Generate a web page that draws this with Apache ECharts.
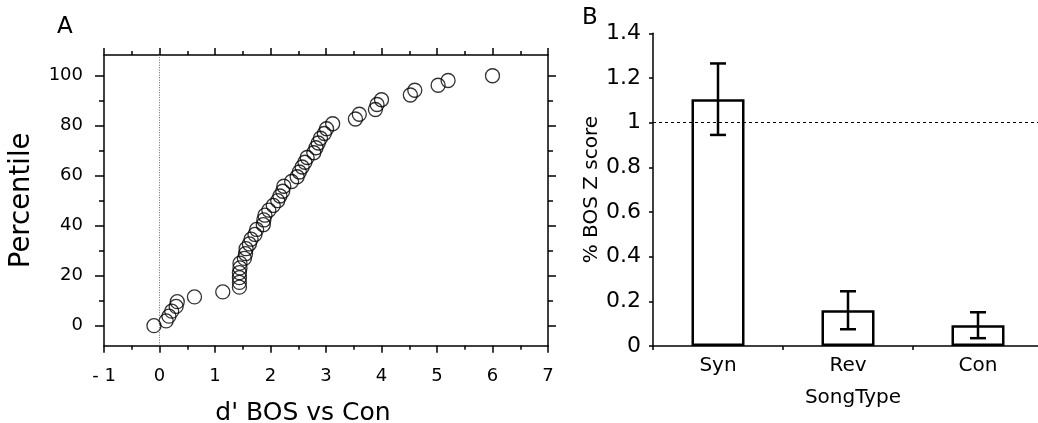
<!DOCTYPE html>
<html>
<head>
<meta charset="utf-8">
<script src="https://cdn.jsdelivr.net/npm/echarts@6/dist/echarts.min.js"></script>
<style>
  html, body { margin: 0; padding: 0; background: #fff; }
  #chart { width: 1038px; height: 423px; }
</style>
</head>
<body>
<div id="chart"></div>
<script>
// Panel A: cumulative distribution of d' (BOS vs Con) across sites
const dPrime = [
  -0.10, 0.12, 0.17, 0.22, 0.30, 0.32, 0.63, 1.14,
  1.44, 1.44, 1.44, 1.44, 1.45, 1.45, 1.53, 1.55, 1.56, 1.62, 1.65, 1.72, 1.75,
  1.87, 1.88, 1.90, 1.97, 2.05, 2.13, 2.17, 2.22, 2.24, 2.38, 2.48, 2.52, 2.57,
  2.62, 2.66, 2.78, 2.82, 2.86, 2.90, 2.97, 3.01, 3.12, 3.53, 3.60, 3.89, 3.92,
  4.00, 4.52, 4.60, 5.02, 5.20, 6.00
];
const percentile = [
  0, 1.9, 3.8, 5.8, 7.7, 9.6, 11.5, 13.5,
  15.4, 17.3, 19.2, 21.2, 23.1, 25.0, 26.9, 28.8, 30.8, 32.7, 34.6, 36.5, 38.5,
  40.4, 42.3, 44.2, 46.2, 48.1, 50.0, 51.9, 53.8, 55.8, 57.7, 59.6, 61.5, 63.5,
  65.4, 67.3, 69.2, 71.2, 73.1, 75.0, 76.9, 78.8, 80.8, 82.7, 84.6, 86.5, 88.5,
  90.4, 92.3, 94.2, 96.2, 98.1, 100
];
const pctMajorTicks = [0, 20, 40, 60, 80, 100];
const pctMinorTicks = [10, 30, 50, 70, 90];

// Panel B: normalised response by song type
const songTypes = ['Syn', 'Rev', 'Con'];
const zScoreMean = [1.105, 0.16, 0.093];
const zScoreErr = [0.16, 0.085, 0.058];

const FONT = 'DejaVu Sans';
const INK = '#000';

const pts = dPrime.map((d, i) => [d, percentile[i]]);
const errData = songTypes.map((s, i) => [i, zScoreMean[i] - zScoreErr[i], zScoreMean[i] + zScoreErr[i]]);

const frameLine = { show: true, onZero: false, lineStyle: { color: INK, width: 1.5 } };
const tickStyle = { color: INK, width: 1.5 };

function pctAxis(position, ticks, len, withLine, withLabel) {
  return {
    gridIndex: 0, type: 'value', position: position,
    min: -8, max: 108.3,
    axisLine: withLine ? frameLine : { show: false, onZero: false },
    axisTick: { show: true, inside: false, length: len, customValues: ticks, lineStyle: tickStyle },
    axisLabel: withLabel
      ? { show: true, customValues: ticks, color: INK, fontSize: 18, fontFamily: FONT, margin: 21 }
      : { show: false },
    splitLine: { show: false }
  };
}

function dAxis(position, withLabel) {
  return {
    gridIndex: 0, type: 'value', position: position,
    min: -1, max: 7, interval: 1,
    axisLine: frameLine,
    axisTick: { show: true, length: 7, lineStyle: tickStyle },
    minorTick: { show: true, splitNumber: 2, length: 4, lineStyle: tickStyle },
    splitLine: { show: false },
    minorSplitLine: { show: false },
    axisLabel: withLabel ? {
      show: true, color: INK, fontSize: 18, fontFamily: FONT, margin: 22,
      formatter: v => (v < 0 ? '- ' + Math.abs(v) : String(v))
    } : { show: false },
    name: withLabel ? "d' BOS vs Con" : '',
    nameLocation: 'middle', nameGap: 55,
    nameTextStyle: { color: INK, fontSize: 25, fontFamily: FONT, padding: [0, 46, 0, 0] }
  };
}

const yA = pctAxis('left', pctMajorTicks, 9, true, true);
yA.name = 'Percentile';
yA.nameLocation = 'middle';
yA.nameGap = 68;
yA.nameTextStyle = { color: INK, fontSize: 27.5, fontFamily: FONT };

const option = {
  backgroundColor: '#fff',
  animation: false,
  textStyle: { fontFamily: FONT, color: INK },
  title: [
    { text: 'A', left: 52, top: 11, textStyle: { fontSize: 23, fontWeight: 'normal', color: INK, fontFamily: FONT } },
    { text: 'B', left: 577, top: 2, textStyle: { fontSize: 23, fontWeight: 'normal', color: INK, fontFamily: FONT } }
  ],
  grid: [
    { left: 104, top: 55, width: 444, height: 290.7, outerBoundsMode: 'none', containLabel: false },
    { left: 653, top: 33.3, width: 390, height: 312.7, outerBoundsMode: 'none', containLabel: false }
  ],
  xAxis: [
    dAxis('bottom', true),
    dAxis('top', false),
    {
      gridIndex: 1, type: 'category', data: songTypes, position: 'bottom',
      axisLine: frameLine,
      axisTick: { show: true, alignWithLabel: false, length: 4, lineStyle: tickStyle },
      axisLabel: { color: INK, fontSize: 20, fontFamily: FONT, margin: 10 },
      name: 'SongType', nameLocation: 'middle', nameGap: 42,
      nameTextStyle: { color: INK, fontSize: 20, fontFamily: FONT, padding: [0, 0, 0, 10] }
    }
  ],
  yAxis: [
    yA,
    pctAxis('left', pctMinorTicks, 5, false, false),
    pctAxis('right', pctMajorTicks, 8, true, false),
    pctAxis('right', pctMinorTicks, 5, false, false),
    {
      gridIndex: 1, type: 'value', min: 0, max: 1.4, interval: 0.2,
      axisLine: frameLine,
      axisTick: { show: true, length: 4, lineStyle: tickStyle },
      axisLabel: { color: INK, fontSize: 22, fontFamily: FONT, margin: 12 },
      splitLine: { show: false },
      name: '% BOS Z score', nameLocation: 'middle', nameGap: 43,
      nameTextStyle: { color: INK, fontSize: 20, fontFamily: FONT }
    }
  ],
  series: [
    {
      type: 'scatter', xAxisIndex: 0, yAxisIndex: 0,
      data: pts,
      symbol: 'circle', symbolSize: 14,
      itemStyle: { color: 'rgba(0,0,0,0)', borderColor: INK, borderWidth: 1.3 },
      markLine: {
        silent: true, symbol: 'none', label: { show: false },
        lineStyle: { color: '#666', width: 1, type: [1, 1.5] },
        data: [{ xAxis: 0 }]
      }
    },
    {
      type: 'bar', xAxisIndex: 2, yAxisIndex: 4,
      data: zScoreMean, barWidth: 53,
      itemStyle: { color: '#fff', borderColor: INK, borderWidth: 2.5 },
      markLine: {
        silent: true, symbol: 'none', label: { show: false },
        lineStyle: { color: INK, width: 1, type: [3, 3] },
        data: [{ yAxis: 1 }]
      }
    },
    {
      type: 'custom', xAxisIndex: 2, yAxisIndex: 4,
      data: errData,
      z: 5,
      renderItem: function (params, api) {
        const x = api.value(0);
        const lo = api.coord([x, api.value(1)]);
        const hi = api.coord([x, api.value(2)]);
        const cap = 8;
        const style = { stroke: INK, lineWidth: 2.5 };
        return {
          type: 'group',
          children: [
            { type: 'line', shape: { x1: hi[0], y1: hi[1], x2: lo[0], y2: lo[1] }, style: style },
            { type: 'line', shape: { x1: hi[0] - cap, y1: hi[1], x2: hi[0] + cap, y2: hi[1] }, style: style },
            { type: 'line', shape: { x1: lo[0] - cap, y1: lo[1], x2: lo[0] + cap, y2: lo[1] }, style: style }
          ]
        };
      }
    }
  ]
};

const chart = echarts.init(document.getElementById('chart'), null, { renderer: 'canvas' });
chart.setOption(option);
</script>
</body>
</html>
